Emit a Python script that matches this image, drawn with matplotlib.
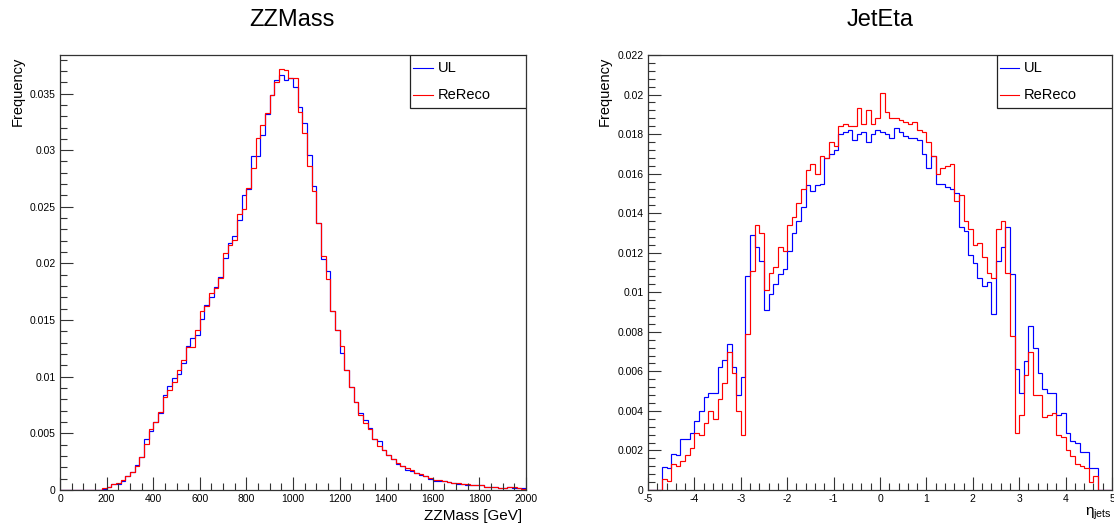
"""
UL vs ReReco comparison: ZZMass and JetEta normalised histograms
"""
import numpy as np
import matplotlib.pyplot as plt
from matplotlib.ticker import MultipleLocator, FuncFormatter
from matplotlib.patches import Rectangle

plt.rcParams['font.family'] = ['Liberation Sans', 'DejaVu Sans']
plt.rcParams['axes.unicode_minus'] = False
plt.rcParams['mathtext.fontset'] = 'custom'
plt.rcParams['mathtext.rm'] = 'Liberation Sans'
plt.rcParams['mathtext.it'] = 'Liberation Sans'

# ZZMass histograms: 100 bins of 20 GeV from 0 to 2000
mass_range = (0, 2000)
mass_ul = [0, 0, 0, 0, 0, 0, 0, 0, 0, 0.0001,
           0.0003, 0.0005, 0.0005, 0.0008, 0.0012, 0.0016, 0.0022, 0.0029, 0.0045, 0.0052,
           0.0060, 0.0068, 0.0084, 0.0092, 0.0099, 0.0102, 0.0112, 0.0127, 0.0134, 0.0137,
           0.0151, 0.0163, 0.0170, 0.0179, 0.0188, 0.0205, 0.0218, 0.0224, 0.0238, 0.0260,
           0.0266, 0.0295, 0.0295, 0.0313, 0.0332, 0.0349, 0.0362, 0.0366, 0.0362, 0.0364,
           0.0356, 0.0338, 0.0324, 0.0296, 0.0268, 0.0236, 0.0204, 0.0193, 0.0158, 0.0141,
           0.0121, 0.0106, 0.0091, 0.0078, 0.0068, 0.0062, 0.0055, 0.0045, 0.0043, 0.0035,
           0.0031, 0.0027, 0.0023, 0.0021, 0.0018, 0.0017, 0.0015, 0.0013, 0.0012, 0.0010,
           0.0008, 0.0008, 0.0008, 0.0007, 0.0006, 0.0005, 0.0005, 0.0004, 0.0004, 0.0004,
           0.0004, 0.0003, 0.0003, 0.0003, 0.0002, 0.0002, 0.0003, 0.0002, 0.0002, 0.0002]
mass_rereco = [0, 0, 0, 0, 0, 0, 0, 0, 0, 0.00015,
               0.0003, 0.0005, 0.00065, 0.0009, 0.0012, 0.0016, 0.0021, 0.0029, 0.0041, 0.0054,
               0.0060, 0.0069, 0.0082, 0.0088, 0.0095, 0.0106, 0.0115, 0.0126, 0.0126, 0.0141,
               0.0158, 0.0162, 0.0174, 0.0178, 0.0187, 0.0209, 0.0216, 0.0221, 0.0244, 0.0248,
               0.0267, 0.0284, 0.0311, 0.0322, 0.0333, 0.0349, 0.0360, 0.0372, 0.0371, 0.0364,
               0.0364, 0.0334, 0.0315, 0.0286, 0.0264, 0.0236, 0.0207, 0.0186, 0.0158, 0.0141,
               0.0127, 0.0106, 0.0091, 0.0078, 0.0066, 0.0059, 0.0054, 0.0045, 0.0039, 0.0035,
               0.0031, 0.0027, 0.0024, 0.0021, 0.0019, 0.0018, 0.0015, 0.0014, 0.0012, 0.0011,
               0.0009, 0.0009, 0.0008, 0.0007, 0.0006, 0.0006, 0.0005, 0.0005, 0.0004, 0.0004,
               0.0004, 0.0003, 0.0003, 0.0003, 0.0002, 0.0002, 0.0003, 0.0003, 0.0002, 0.0001]

# JetEta histograms: 100 bins of 0.1 from -5 to 5
eta_range = (-5, 5)
eta_ul = [0, 0, 0, 0.00115, 0.0011, 0.0018, 0.00175, 0.00256, 0.0026, 0.0029,
          0.0035, 0.0040, 0.0047, 0.0049, 0.0049, 0.0062, 0.0066, 0.0074, 0.0062, 0.0048,
          0.0057, 0.0108, 0.0129, 0.0123, 0.0116, 0.0091, 0.0099, 0.0104, 0.0109, 0.0112,
          0.0121, 0.0130, 0.0136, 0.0143, 0.0154, 0.0151, 0.0154, 0.0155, 0.0168, 0.0170,
          0.0172, 0.0180, 0.0181, 0.0182, 0.0177, 0.0180, 0.0181, 0.0176, 0.0180, 0.0182,
          0.0181, 0.0180, 0.0178, 0.0183, 0.0181, 0.0179, 0.0178, 0.0178, 0.0177, 0.0170,
          0.0163, 0.0169, 0.0155, 0.0155, 0.0153, 0.0152, 0.0150, 0.0133, 0.0131, 0.0119,
          0.0115, 0.0107, 0.0103, 0.0105, 0.0089, 0.0116, 0.0123, 0.0133, 0.0109, 0.0061,
          0.0049, 0.0065, 0.0083, 0.0072, 0.0059, 0.0051, 0.0049, 0.0049, 0.0038, 0.0039,
          0.0029, 0.0025, 0.0024, 0.0019, 0.0019, 0.0011, 0.0011, 0, 0, 0]
eta_rereco = [0, 0, 0, 0.00054, 0.00047, 0.0013, 0.0012, 0.00145, 0.00175, 0.0021,
              0.0029, 0.0028, 0.0034, 0.0040, 0.0036, 0.0046, 0.0054, 0.0070, 0.0059, 0.0040,
              0.0028, 0.0079, 0.0111, 0.0134, 0.0130, 0.0101, 0.0110, 0.0113, 0.0123, 0.0121,
              0.0134, 0.0138, 0.0145, 0.0152, 0.0162, 0.0165, 0.0160, 0.0169, 0.0168, 0.0176,
              0.0174, 0.0184, 0.0185, 0.0184, 0.0184, 0.0193, 0.0185, 0.0192, 0.0185, 0.0188,
              0.0201, 0.0191, 0.0188, 0.0188, 0.0187, 0.0186, 0.0185, 0.0186, 0.0182, 0.0181,
              0.0176, 0.0169, 0.0160, 0.0163, 0.0164, 0.0165, 0.0146, 0.0149, 0.0136, 0.0132,
              0.0124, 0.0125, 0.0118, 0.0110, 0.0107, 0.0132, 0.0136, 0.0110, 0.0078, 0.0029,
              0.0038, 0.0058, 0.0070, 0.0048, 0.0048, 0.0037, 0.0038, 0.0039, 0.0028, 0.0027,
              0.0020, 0.0017, 0.0013, 0.0012, 0.0011, 0.0004, 0.0007, 0, 0, 0]

labels = ['UL', 'ReReco']
colors = ['#0000ff', '#ff0000']

fig = plt.figure(figsize=(11.14, 5.27), dpi=100)
W, H = 1114, 527


def px_axes(x0, x1, y0, y1):
    # axes placed from pixel box (top-left origin)
    return fig.add_axes([x0 / W, 1 - y1 / H, (x1 - x0) / W, (y1 - y0) / H])


def style_axes(ax, xmaj, xmin, ymaj, ymin):
    ax.xaxis.set_major_locator(MultipleLocator(xmaj))
    ax.xaxis.set_minor_locator(MultipleLocator(xmin))
    ax.yaxis.set_major_locator(MultipleLocator(ymaj))
    ax.yaxis.set_minor_locator(MultipleLocator(ymin))
    fmt = FuncFormatter(lambda v, p: '%g' % round(v, 6))
    ax.xaxis.set_major_formatter(fmt)
    ax.yaxis.set_major_formatter(fmt)
    ax.tick_params(which='both', direction='in', top=False, right=False,
                   labelsize=7.5, width=0.8, color='#333333')
    ax.tick_params(which='major', length=9.5, pad=3)
    ax.tick_params(which='minor', length=4.8)
    for s in ax.spines.values():
        s.set_linewidth(0.9)
        s.set_color('#333333')


def draw_legend(ax):
    ax.add_patch(Rectangle((0.752, 0.878), 0.248, 0.122, transform=ax.transAxes,
                           facecolor='white', edgecolor='#222222', lw=0.9, zorder=5))
    for i, (lab, c) in enumerate(zip(labels, colors)):
        y = 0.970 - i * 0.062
        ax.plot([0.758, 0.800], [y, y], color=c, lw=0.8, transform=ax.transAxes, zorder=6)
        ax.text(0.810, y, lab, fontsize=10.5, va='center', ha='left',
                transform=ax.transAxes, zorder=6)


# Left panel: ZZMass
ax1 = px_axes(60, 526, 55, 490)
edges = np.linspace(mass_range[0], mass_range[1], len(mass_ul) + 1)
ax1.stairs(mass_ul, edges, color=colors[0], lw=0.85)
ax1.stairs(mass_rereco, edges, color=colors[1], lw=0.85)
ax1.set_xlim(*mass_range)
ax1.set_ylim(0, 0.0384)
style_axes(ax1, 200, 50, 0.005, 0.001)
draw_legend(ax1)

# Right panel: JetEta
ax2 = px_axes(648, 1112, 55, 490)
edges = np.linspace(eta_range[0], eta_range[1], len(eta_ul) + 1)
ax2.stairs(eta_ul, edges, color=colors[0], lw=0.85)
ax2.stairs(eta_rereco, edges, color=colors[1], lw=0.85)
ax2.set_xlim(*eta_range)
ax2.set_ylim(0, 0.022)
style_axes(ax2, 1, 0.2, 0.002, 0.0004)
draw_legend(ax2)

# Titles and axis labels (ROOT style placement)
fig.text(292 / W, 1 - 20 / H, 'ZZMass', fontsize=17, ha='center', va='center')
fig.text(880 / W, 1 - 20 / H, 'JetEta', fontsize=17, ha='center', va='center')
fig.text(18 / W, 1 - 57 / H, 'Frequency', fontsize=10.5, rotation=90, ha='center', va='top')
fig.text(605 / W, 1 - 57 / H, 'Frequency', fontsize=10.5, rotation=90, ha='center', va='top')
fig.text(522 / W, 1 - 516 / H, 'ZZMass [GeV]', fontsize=11, ha='right', va='center')
fig.text(1112 / W, 1 - 514 / H, r'$\eta_{\mathrm{jets}}$', fontsize=11, ha='right', va='center')

plt.savefig('out.png', dpi=100)
